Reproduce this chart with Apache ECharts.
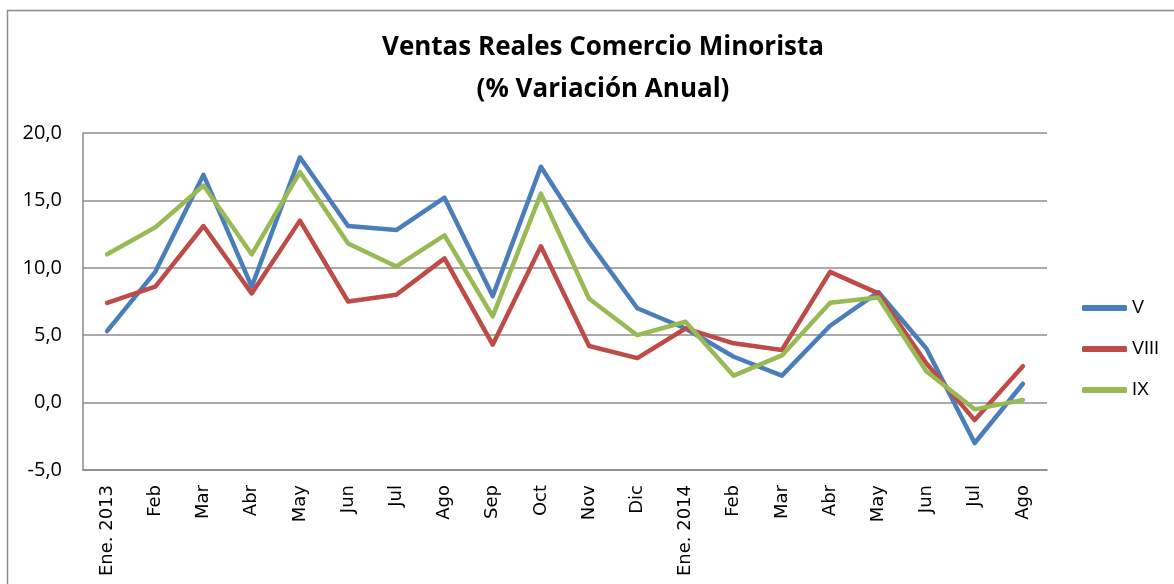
<!DOCTYPE html>
<html>
<head>
<meta charset="utf-8">
<script src="https://cdn.jsdelivr.net/npm/echarts@6/dist/echarts.min.js"></script>
<style>
  html, body { margin: 0; padding: 0; background: #fff; }
  #main { width: 1174px; height: 584px; }
</style>
</head>
<body>
<div id="main"></div>
<script>
// datos del grafico
var meses = ['Ene. 2013', 'Feb', 'Mar', 'Abr', 'May', 'Jun', 'Jul', 'Ago', 'Sep', 'Oct', 'Nov', 'Dic',
  'Ene. 2014', 'Feb', 'Mar', 'Abr', 'May', 'Jun', 'Jul', 'Ago'];
var serieV = [5.3, 9.7, 16.9, 8.6, 18.2, 13.1, 12.8, 15.2, 7.9, 17.5, 11.9, 7.0, 5.5, 3.4, 2.0, 5.7, 8.2, 4.0, -3.0, 1.4];
var serieVIII = [7.4, 8.6, 13.1, 8.1, 13.5, 7.5, 8.0, 10.7, 4.3, 11.6, 4.2, 3.3, 5.5, 4.4, 3.9, 9.7, 8.1, 2.9, -1.3, 2.7];
var serieIX = [11.0, 13.0, 16.1, 11.0, 17.1, 11.8, 10.1, 12.4, 6.4, 15.5, 7.7, 5.0, 6.0, 2.0, 3.5, 7.4, 7.8, 2.3, -0.5, 0.2];

var myChart = echarts.init(document.getElementById('main'));

function linea (nombre, datos, color) {
  return {
    name: nombre,
    type: 'line',
    data: datos,
    symbol: 'none',
    lineStyle: { width: 4.5, color: color, cap: 'round', join: 'round' },
    itemStyle: { color: color }
  };
}

var option = {
  animation: false,
  backgroundColor: '#fff',
  title: {
    text: 'Ventas Reales Comercio Minorista\n(% Variación Anual)',
    left: 603,
    top: 27,
    textAlign: 'center',
    padding: 0,
    textStyle: { fontFamily: 'Open Sans', fontWeight: 'bold', fontSize: 26, lineHeight: 42, color: '#000' }
  },
  legend: {
    orient: 'vertical',
    left: 1082,
    top: 299,
    padding: 0,
    itemWidth: 45,
    itemHeight: 6,
    itemGap: 23,
    icon: 'roundRect',
    textStyle: { fontFamily: 'Liberation Sans', fontSize: 18, color: '#000' },
    data: ['V', 'VIII', 'IX']
  },
  graphic: [{
    type: 'rect',
    shape: { x: 7.5, y: 10.5, width: 1400, height: 800 },
    style: { fill: 'none', stroke: '#8a8a8a', lineWidth: 1.5 },
    silent: true
  }],
  grid: { left: 83, right: 127, top: 133, bottom: 114 },
  xAxis: {
    type: 'category',
    data: meses,
    boundaryGap: true,
    axisLine: { onZero: false, lineStyle: { color: '#8a8a8a', width: 1.5 } },
    axisTick: { show: false },
    axisLabel: {
      rotate: 90,
      margin: 15,
      interval: 0,
      fontFamily: 'DejaVu Sans',
      fontSize: 18,
      color: '#000'
    }
  },
  yAxis: {
    type: 'value',
    min: -5,
    max: 20,
    interval: 5,
    axisLine: { show: true, lineStyle: { color: '#8a8a8a', width: 1.5 } },
    axisTick: { show: false },
    splitLine: { lineStyle: { color: '#8e8e8e', width: 1.5 } },
    axisLabel: {
      margin: 21,
      fontFamily: 'Open Sans',
      fontSize: 20,
      color: '#000',
      formatter: function (v) { return v.toFixed(1).replace('.', ','); }
    }
  },
  series: [
    linea('V', serieV, '#4A7EBB'),
    linea('VIII', serieVIII, '#BE4B48'),
    linea('IX', serieIX, '#98B954')
  ]
};

myChart.setOption(option);
</script>
</body>
</html>
